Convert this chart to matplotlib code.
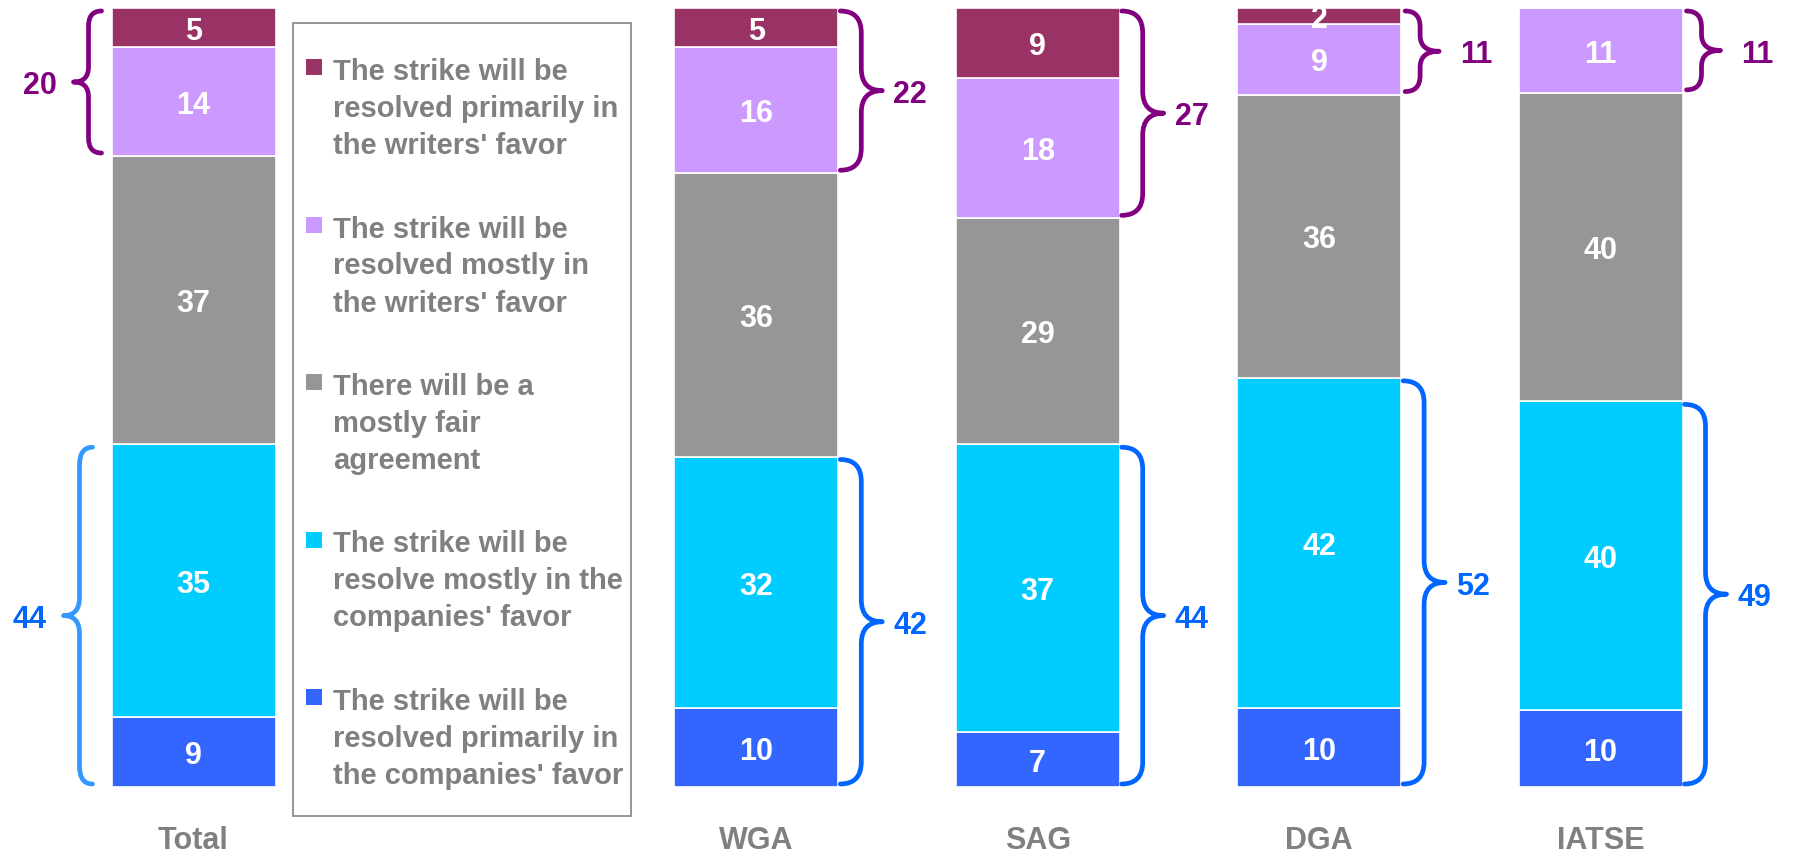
import numpy as np
import matplotlib.pyplot as plt
from matplotlib.path import Path
from matplotlib.patches import PathPatch, Rectangle
from matplotlib.transforms import IdentityTransform, offset_copy

plt.rcParams['font.family'] = ['Liberation Sans', 'DejaVu Sans']

# survey groups (Total sits apart, the legend fills the gap)
groups = ['Total', 'WGA', 'SAG', 'DGA', 'IATSE']
positions = [0, 2, 3, 4, 5]

# answers, stacked bottom to top
companies_primarily = [9, 10, 7, 10, 10]
companies_mostly = [35, 32, 37, 42, 40]
fair_agreement = [37, 36, 29, 36, 40]
writers_mostly = [14, 16, 18, 9, 11]
writers_primarily = [5, 5, 9, 2, 0]

# net values shown next to the braces
writers_net = [20, 22, 27, 11, 11]
companies_net = [44, 42, 44, 52, 49]

legend_labels = [
    "The strike will be\nresolved primarily in\nthe writers' favor",
    "The strike will be\nresolved mostly in\nthe writers' favor",
    "There will be a\nmostly fair\nagreement",
    "The strike will be\nresolve mostly in the\ncompanies' favor",
    "The strike will be\nresolved primarily in\nthe companies' favor",
]

series = [companies_primarily, companies_mostly, fair_agreement,
          writers_mostly, writers_primarily]
colors = ['#3366FF', '#00CCFF', '#969696', '#CC99FF', '#993366']
purple = '#800080'
blue = '#0066FF'
grey_text = '#808080'

W, H = 1797, 854
fig = plt.figure(figsize=(W / 100, H / 100), dpi=100)
ax = fig.add_axes([0, 66 / H, 1, 779 / H])
ax.set_xlim(-193.5 / 281.4, (W - 193.5) / 281.4)
ax.set_ylim(0, 100)
ax.axis('off')

bar_w = 164 / 281.4
vals = np.array(series, dtype=float)
shares = vals / vals.sum(axis=0) * 100   # 100% stacked

label_tr = offset_copy(ax.transData, fig=fig, y=-8, units='points')
bottom = np.zeros(len(groups))
for k in range(len(series)):
    ax.bar(positions, shares[k], bar_w, bottom=bottom, color=colors[k],
           edgecolor='white', linewidth=1.2)
    for i in range(len(groups)):
        if series[k][i] > 0:
            ax.text(positions[i], bottom[i] + shares[k][i] / 2, str(series[k][i]),
                    transform=label_tr, ha='center', va='baseline', color='white',
                    fontsize=22, fontweight='bold', clip_on=True)
    bottom += shares[k]


def brace(x_edge, y0, y1, side, gap, stem, tip, r, color):
    """curly brace drawn in pixel space next to a bar edge"""
    xe, yb = ax.transData.transform((x_edge, y0))
    _, yt = ax.transData.transform((x_edge, y1))
    xe += side * gap
    yb += 3
    yt -= 3
    ym = (yb + yt) / 2
    xs = xe + side * stem
    xt = xe + side * tip
    verts = [(xe, yt), (xs, yt), (xs, yt - r), (xs, ym + r), (xs, ym), (xt, ym),
             (xs, ym), (xs, ym - r), (xs, yb + r), (xs, yb), (xe, yb)]
    codes = [Path.MOVETO, Path.CURVE3, Path.CURVE3, Path.LINETO, Path.CURVE3,
             Path.CURVE3, Path.CURVE3, Path.CURVE3, Path.LINETO, Path.CURVE3,
             Path.CURVE3]
    p = PathPatch(Path(verts, codes), fill=False, edgecolor=color, lw=3.4,
                  transform=IdentityTransform(), capstyle='round',
                  joinstyle='round', clip_on=False)
    ax.add_artist(p)
    return xt, ym


def brace_label(val, xt, ym, side, color, pad):
    ax.annotate(str(val), xy=(xt, ym), xycoords='figure pixels',
                xytext=(side * pad, -8),
                textcoords='offset points', ha='left' if side > 0 else 'right',
                va='baseline', color=color, fontsize=22, fontweight='bold')


low_top = shares[0] + shares[1]
high_bottom = shares[0] + shares[1] + shares[2]
for i in range(len(groups)):
    if i == 0:
        side = -1
        x_edge = positions[i] - bar_w / 2
        xt, ym = brace(x_edge, high_bottom[i], 100, side, 10, 13, 28, 15, purple)
        brace_label(writers_net[i], xt, ym, side, purple, 12)
        xt, ym = brace(x_edge, 0, low_top[i], side, 19, 13, 29, 18, '#3399FF')
        brace_label(companies_net[i], xt, ym, side, blue, 12)
    else:
        side = 1
        x_edge = positions[i] + bar_w / 2
        span_px = (100 - high_bottom[i]) * 7.79
        if span_px < 120:
            xt, ym = brace(x_edge, high_bottom[i], 100, side, 4, 15, 34, 16, purple)
            brace_label(writers_net[i], xt, ym, side, purple, 15)
        else:
            xt, ym = brace(x_edge, high_bottom[i], 100, side, 2, 21, 42, 22, purple)
            brace_label(writers_net[i], xt, ym, side, purple, 8)
        xt, ym = brace(x_edge, 0, low_top[i], side, 2, 21, 42, 22, blue)
        brace_label(companies_net[i], xt, ym, side, blue, 8)

# category names under the bars
for i, g in enumerate(groups):
    ax.annotate(g, xy=(positions[i], 5), xycoords=('data', 'figure pixels'),
                ha='center', va='baseline', color=grey_text, fontsize=22,
                fontweight='bold')

# legend box between Total and WGA
fig.add_artist(Rectangle((293, H - 817), 338, 793, transform=IdentityTransform(),
                         facecolor='white', edgecolor='#8c8c8c', lw=1.3))
legend_colors = colors[::-1]
for j, lab in enumerate(legend_labels):
    base = 80 + j * 157.5
    fig.add_artist(Rectangle((306, H - base + 4), 16, 16, transform=IdentityTransform(),
                             facecolor=legend_colors[j], edgecolor='none'))
    for n, line in enumerate(lab.split('\n')):
        fig.text(333 / W, (H - base - n * 37) / H, line, ha='left', va='baseline',
                 color=grey_text, fontsize=21, fontweight='bold')

fig.savefig('out.png', dpi=100)
